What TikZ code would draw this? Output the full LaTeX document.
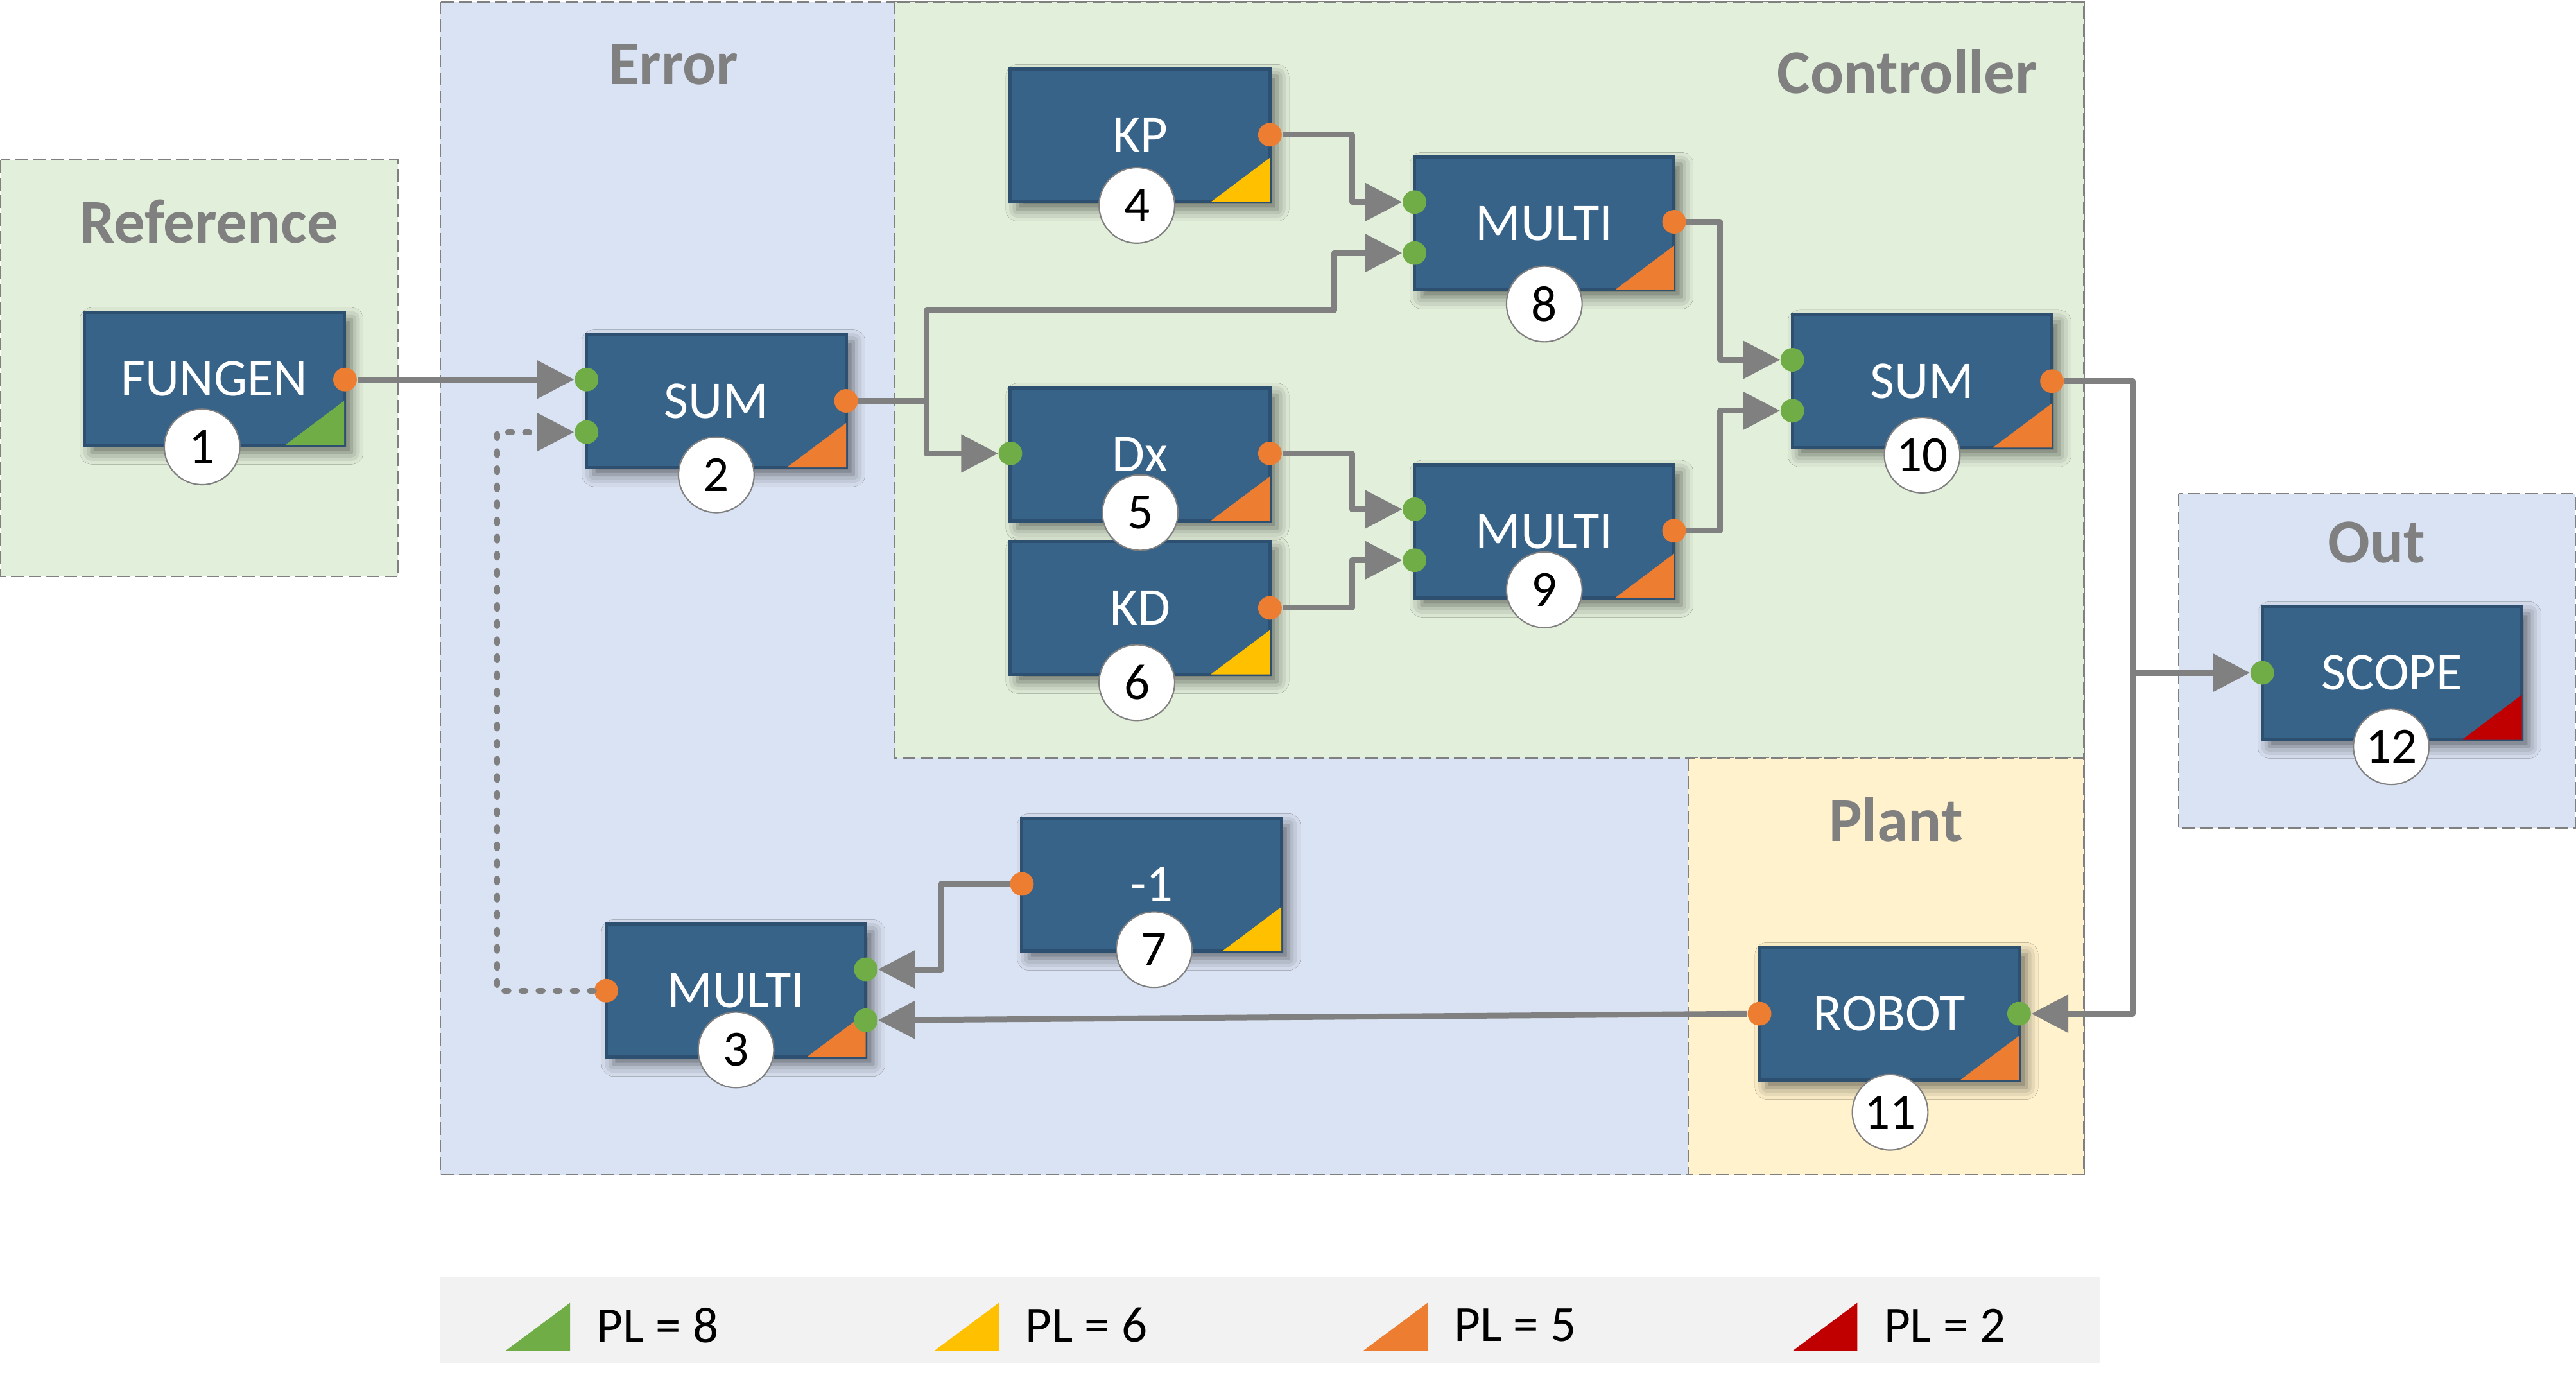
\documentclass[tikz,border=0pt]{standalone}
\usepackage{fontspec}
\setmainfont{Carlito}
\usetikzlibrary{arrows.meta,shadows.blur}

\definecolor{blockfill}{RGB}{56,99,137}
\definecolor{blockedge}{RGB}{45,79,112}
\definecolor{greenbg}{RGB}{226,239,218}
\definecolor{bluebg}{RGB}{218,227,243}
\definecolor{yellowbg}{RGB}{255,242,204}
\definecolor{legendbg}{RGB}{242,242,242}
\definecolor{plgreen}{RGB}{112,173,71}
\definecolor{plyellow}{RGB}{255,192,0}
\definecolor{plorange}{RGB}{237,125,49}
\definecolor{plred}{RGB}{192,0,0}
\definecolor{linegray}{RGB}{128,128,128}

\begin{document}
\begin{tikzpicture}[scale=0.25,
  grp/.style={draw=linegray, line width=0.6pt, dash pattern=on 5.5pt off 2.2pt},
  title/.style={font=\fontsize{27}{32}\selectfont\bfseries, text=linegray, anchor=base, inner sep=0pt},
  block/.style={rectangle, draw=blockedge, line width=1.4pt, fill=blockfill,
    minimum width=3.95cm, minimum height=2.025cm, inner sep=0pt, text=white,
    font=\fontsize{23}{27}\selectfont,
    blur shadow={shadow xshift=0.11cm, shadow yshift=-0.11cm, shadow blur radius=0.18cm, shadow opacity=55}},
  numb/.style={circle, draw=linegray, line width=0.6pt, fill=white, minimum size=1.15cm,
    inner sep=0pt, font=\fontsize{22}{26}\selectfont},
  inp/.style={circle, fill=plgreen, minimum size=0.36cm, inner sep=0pt},
  outp/.style={circle, fill=plorange, minimum size=0.36cm, inner sep=0pt},
  conn/.style={draw=linegray, line width=2.5pt, line join=round, -{Triangle[length=16pt,width=16pt]}},
  fb/.style={conn, line cap=round, dash pattern=on 1.8pt off 5.6pt},
  legtext/.style={anchor=west, inner sep=0pt, font=\fontsize{22}{26}\selectfont}
]
\useasboundingbox (0,0) rectangle (156.8,-84.24);

% groups
\draw[grp, fill=greenbg] (0.05,-9.73) rectangle (24.23,-35.1);
\draw[grp, fill=bluebg] (26.8,-0.1) rectangle (126.85,-71.5);
\draw[grp, fill=greenbg] (54.45,-0.1) rectangle (126.85,-46.15);
\draw[grp, fill=yellowbg] (102.75,-46.15) rectangle (126.85,-71.5);
\draw[grp, fill=bluebg] (132.6,-30.05) rectangle (156.75,-50.4);
\fill[legendbg] (26.8,-77.75) rectangle (127.8,-82.95);

\node[title] at (12.73,-14.77) {Reference};
\node[title] at (41.0,-5.12) {Error};
\node[title] at (116.1,-5.67) {Controller};
\node[title] at (115.4,-51.22) {Plant};
\node[title] at (144.67,-34.23) {Out};

% blocks
\node[block] (fungen) at (13.05,-23.05) {FUNGEN};
\node[block] (sumA) at (43.6,-24.4) {SUM};
\node[block] (multiA) at (44.8,-60.3) {MULTI};
\node[block] (kp) at (69.4,-8.25) {KP};
\node[block] (dx) at (69.4,-27.65) {Dx};
\node[block] (kd) at (69.4,-37.0) {KD};
\node[block] (neg) at (70.1,-53.85) {-1};
\node[block] (multiB) at (94.0,-13.6) {MULTI};
\node[block] (multiC) at (94.0,-32.35) {MULTI};
\node[block] (sumB) at (117.0,-23.2) {SUM};
\node[block] (robot) at (115.0,-61.7) {ROBOT};
\node[block] (scope) at (145.6,-40.95) {SCOPE};

% PL corners
\fill[plgreen] ([shift={(-0.1,0.1)}]fungen.south east) -- ++(-3.6,0) -- ++(3.6,2.7) -- cycle;
\fill[plorange] ([shift={(-0.1,0.1)}]sumA.south east) -- ++(-3.6,0) -- ++(3.6,2.7) -- cycle;
\fill[plorange] ([shift={(-0.1,0.1)}]multiA.south east) -- ++(-3.6,0) -- ++(3.6,2.7) -- cycle;
\fill[plyellow] ([shift={(-0.1,0.1)}]kp.south east) -- ++(-3.6,0) -- ++(3.6,2.7) -- cycle;
\fill[plorange] ([shift={(-0.1,0.1)}]dx.south east) -- ++(-3.6,0) -- ++(3.6,2.7) -- cycle;
\fill[plyellow] ([shift={(-0.1,0.1)}]kd.south east) -- ++(-3.6,0) -- ++(3.6,2.7) -- cycle;
\fill[plyellow] ([shift={(-0.1,0.1)}]neg.south east) -- ++(-3.6,0) -- ++(3.6,2.7) -- cycle;
\fill[plorange] ([shift={(-0.1,0.1)}]multiB.south east) -- ++(-3.6,0) -- ++(3.6,2.7) -- cycle;
\fill[plorange] ([shift={(-0.1,0.1)}]multiC.south east) -- ++(-3.6,0) -- ++(3.6,2.7) -- cycle;
\fill[plorange] ([shift={(-0.1,0.1)}]sumB.south east) -- ++(-3.6,0) -- ++(3.6,2.7) -- cycle;
\fill[plorange] ([shift={(-0.1,0.1)}]robot.south east) -- ++(-3.6,0) -- ++(3.6,2.7) -- cycle;
\fill[plred] ([shift={(-0.1,0.1)}]scope.south east) -- ++(-3.6,0) -- ++(3.6,2.7) -- cycle;

% numbers
\node[numb] (n1) at (12.3,-27.2) {1};
\node[numb] (n2) at (43.6,-28.9) {2};
\node[numb] (n3) at (44.8,-63.9) {3};
\node[numb] (n4) at (69.2,-12.5) {4};
\node[numb] (n5) at (69.4,-31.2) {5};
\node[numb] (n6) at (69.2,-41.55) {6};
\node[numb] (n7) at (70.25,-57.8) {7};
\node[numb] (n8) at (94.0,-18.5) {8};
\node[numb] (n9) at (94.0,-35.9) {9};
\node[numb] (n10) at (117.0,-27.7) {10};
\node[numb] (n11) at (115.05,-67.7) {11};
\node[numb] (n12) at (145.55,-45.45) {12};

% ports
\node[outp] (fungen-o) at (21.0,-23.1) {};
\node[inp] (sumA-i1) at (35.7,-23.1) {};
\node[inp] (sumA-i2) at (35.7,-26.3) {};
\node[outp] (sumA-o) at (51.5,-24.4) {};
\node[inp] (multiA-i1) at (52.7,-59.0) {};
\node[inp] (multiA-i2) at (52.7,-62.1) {};
\node[outp] (multiA-o) at (36.9,-60.3) {};
\node[outp] (kp-o) at (77.3,-8.2) {};
\node[inp] (dx-i) at (61.5,-27.6) {};
\node[outp] (dx-o) at (77.3,-27.6) {};
\node[outp] (kd-o) at (77.3,-37.0) {};
\node[outp] (neg-o) at (62.2,-53.8) {};
\node[inp] (multiB-i1) at (86.1,-12.3) {};
\node[inp] (multiB-i2) at (86.1,-15.4) {};
\node[outp] (multiB-o) at (101.9,-13.5) {};
\node[inp] (multiC-i1) at (86.1,-31.0) {};
\node[inp] (multiC-i2) at (86.1,-34.1) {};
\node[outp] (multiC-o) at (101.9,-32.3) {};
\node[inp] (sumB-i1) at (109.1,-21.9) {};
\node[inp] (sumB-i2) at (109.1,-25.0) {};
\node[outp] (sumB-o) at (124.9,-23.2) {};
\node[inp] (robot-i) at (122.9,-61.7) {};
\node[outp] (robot-o) at (107.1,-61.7) {};
\node[inp] (scope-i) at (137.7,-40.95) {};

% connectors
\coordinate (split) at (56.4,-24.4);
\coordinate (tap) at (129.8,-40.95);
\draw[conn] (fungen-o) -- (sumA-i1);
\draw[conn] (sumA-o) -| (56.4,-18.9) -| (81.2,-17) |- (multiB-i2);
\draw[conn] (split) |- (dx-i);
\draw[conn] (kp-o) -| (82.3,-10) |- (multiB-i1);
\draw[conn] (dx-o) -| (82.3,-29) |- (multiC-i1);
\draw[conn] (kd-o) -| (82.3,-35.5) |- (multiC-i2);
\draw[conn] (multiB-o) -| (104.7,-20) |- (sumB-i1);
\draw[conn] (multiC-o) -| (104.7,-28) |- (sumB-i2);
\draw[conn] (sumB-o) -| (129.8,-50) |- (robot-i);
\draw[conn] (tap) -- (scope-i);
\draw[conn] (robot-o) -- (multiA-i2);
\draw[conn] (neg-o) -| (57.3,-56) |- (multiA-i1);
\draw[fb] (multiA-o) -| (30.25,-43) |- (sumA-i2);

% legend
\fill[plgreen] (30.8,-82.2) -- (34.7,-82.2) -- (34.7,-79.3) -- cycle;
\node[legtext] (pl8) at (36.3,-80.66) {PL = 8};
\fill[plyellow] (56.9,-82.2) -- (60.8,-82.2) -- (60.8,-79.3) -- cycle;
\node[legtext] (pl6) at (62.4,-80.66) {PL = 6};
\fill[plorange] (83.0,-82.2) -- (86.9,-82.2) -- (86.9,-79.3) -- cycle;
\node[legtext] (pl5) at (88.5,-80.66) {PL = 5};
\fill[plred] (109.15,-82.2) -- (113.05,-82.2) -- (113.05,-79.3) -- cycle;
\node[legtext] (pl2) at (114.65,-80.66) {PL = 2};
\end{tikzpicture}
\end{document}
